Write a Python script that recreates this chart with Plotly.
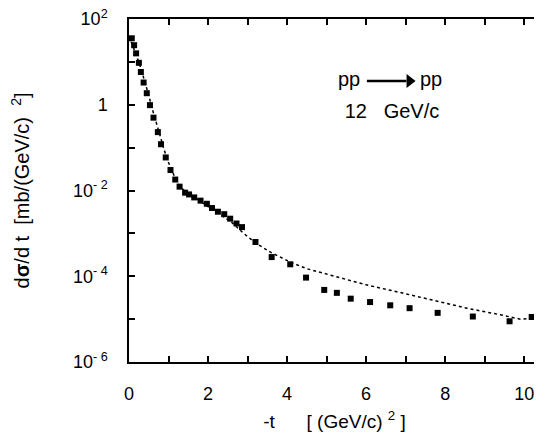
import plotly.graph_objects as go

# measured data: -t [(GeV/c)^2] and dsigma/dt [mb/(GeV/c)^2]
t_data = [0.07, 0.13, 0.18, 0.25, 0.30, 0.37, 0.45, 0.53, 0.62, 0.73, 0.81, 0.93,
          1.05, 1.17, 1.28, 1.42, 1.52, 1.65, 1.81, 1.97, 2.10, 2.25, 2.41, 2.56,
          2.72, 2.86, 3.20, 3.61, 4.08, 4.48, 4.94, 5.26, 5.61, 6.10, 6.61, 7.10,
          7.81, 8.70, 9.63, 10.19]
dsdt_data = [35.5, 24.5, 15.8, 9.5, 5.8, 3.3, 1.86, 0.98, 0.50, 0.23, 0.12, 0.059,
             0.030, 0.018, 0.0123, 0.0089, 0.0081, 0.0069, 0.0058, 0.0049, 0.0039,
             0.0032, 0.0028, 0.0022, 0.0017, 0.0014, 6.3e-4, 2.8e-4, 1.9e-4, 9.3e-5,
             4.8e-5, 4.1e-5, 3.0e-5, 2.5e-5, 2.1e-5, 1.8e-5, 1.4e-5, 1.15e-5, 8.9e-6,
             1.12e-5]

# model curve (dotted)
t_model = [0, 0.1, 0.2, 0.3, 0.4, 0.5, 0.6, 0.7, 0.8, 0.9, 1.0, 1.1, 1.2, 1.3, 1.5,
           1.7, 2.0, 2.3, 2.6, 2.9, 3.2, 3.6, 4.1, 4.5, 5.2, 6.0, 6.9, 7.7, 8.55,
           9.4, 9.9, 10.2]
dsdt_model = [40, 24, 13.2, 7.1, 3.6, 1.66, 0.74, 0.34, 0.158, 0.083, 0.045, 0.026,
              0.0166, 0.0117, 0.0087, 0.0063, 0.0042, 0.0028, 0.0018, 0.0010, 6.0e-4,
              3.55e-4, 2.1e-4, 1.5e-4, 1.0e-4, 6.3e-5, 4.1e-5, 2.7e-5, 1.8e-5,
              1.26e-5, 1.0e-5, 1.05e-5]

x_tickvals = [0, 1, 2, 3, 4, 5, 6, 7, 8, 9, 10]
x_ticktext = ["0", "", "2", "", "4", "", "6", "", "8", "", "10"]
y_tickvals = [1e-6, 1e-5, 1e-4, 1e-3, 1e-2, 1e-1, 1, 10, 100]
y_ticktext = ["10<sup>- 6</sup>", "", "10<sup>- 4</sup>", "", "10<sup>- 2</sup>", "",
              "1", "", "10<sup>2</sup>"]

# in-plot labels: reaction and beam momentum
label_text = ["pp", "pp", "12   GeV/c"]
label_x = [5.567, 7.642, 6.655]
label_y = [3.66, 3.66, 0.659]
arrow_x = [6.02, 7.02]
arrow_y = [3.58, 3.58]
arrow_head_x = [7.10]
arrow_head_y = [3.58]

FONT = "Liberation Sans, Arial, Helvetica, sans-serif"

fig = go.Figure()
fig.add_trace(go.Scatter(x=t_model, y=dsdt_model, mode="lines",
                         line=dict(color="black", width=1.5, dash="dot"),
                         showlegend=False, hoverinfo="skip"))
fig.add_trace(go.Scatter(x=t_data, y=dsdt_data, mode="markers",
                         marker=dict(symbol="square", size=6, color="black"),
                         showlegend=False))
fig.add_trace(go.Scatter(x=label_x, y=label_y, mode="text", text=label_text,
                         textposition="middle center",
                         textfont=dict(family=FONT, size=20, color="black"),
                         showlegend=False, hoverinfo="skip"))
fig.add_trace(go.Scatter(x=arrow_x, y=arrow_y, mode="lines",
                         line=dict(color="black", width=2.5),
                         showlegend=False, hoverinfo="skip"))
fig.add_trace(go.Scatter(x=arrow_head_x, y=arrow_head_y, mode="markers",
                         marker=dict(symbol="triangle-right", size=12, color="black"),
                         showlegend=False, hoverinfo="skip"))

tick_style = dict(ticks="inside", ticklen=6, tickwidth=1.5, tickcolor="black")
fig.update_layout(
    width=534, height=436,
    margin=dict(l=121, r=2, t=11, b=82, autoexpand=False),
    plot_bgcolor="white",
    font=dict(family=FONT, color="black"),
    xaxis=dict(range=[0, 10.4], tickmode="array", tickvals=x_tickvals,
               ticktext=x_ticktext, **tick_style,
               showline=True, linecolor="black", linewidth=1.5, mirror="ticks",
               showgrid=False, zeroline=False, automargin=False,
               ticklabelstandoff=15, ticklabeloverflow="allow",
               tickfont=dict(size=18),
               title=dict(text="-t      [ (GeV/c) <sup>2</sup> ]",
                          font=dict(size=19), standoff=11)),
    yaxis=dict(type="log", range=[-6, 2], tickmode="array", tickvals=y_tickvals,
               ticktext=y_ticktext, **tick_style,
               showline=True, linecolor="black", linewidth=1.5, mirror="ticks",
               showgrid=False, zeroline=False, automargin=False,
               ticklabelstandoff=16, ticklabeloverflow="allow",
               tickfont=dict(size=18),
               title=dict(text="d<b>σ</b>/d t  [mb/(GeV/c)  <sup>2</sup>]",
                          font=dict(size=20), standoff=43)),
)

fig.write_html("out.html")
